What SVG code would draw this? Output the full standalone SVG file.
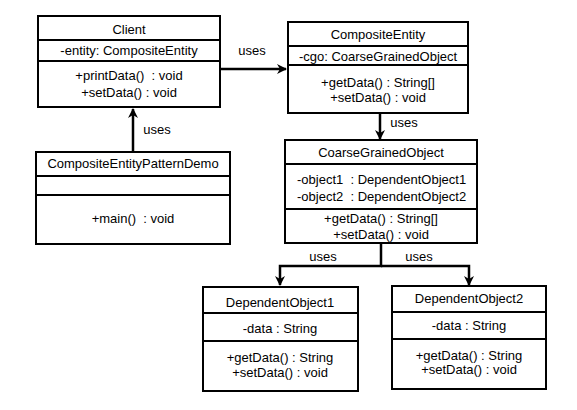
<svg xmlns="http://www.w3.org/2000/svg" width="577" height="410" viewBox="0 0 577 410">
<style>
.box{fill:#fff;stroke:#000;stroke-width:2}
.sep{stroke:#000;stroke-width:2}
text{font-family:"Liberation Sans",Arial,sans-serif;font-size:13px;fill:#000;white-space:pre}
.c{text-anchor:middle}
.conn{fill:none;stroke:#000;stroke-width:2.5}
</style>
<defs>
<marker id="arr" viewBox="0 0 10 10" refX="9" refY="5" markerWidth="4" markerHeight="4" orient="auto" markerUnits="strokeWidth">
<path d="M0,0 L10,5 L0,10 L3,5 Z" fill="#000"/>
</marker>
</defs>
<rect width="577" height="410" fill="#fff"/>
<g id="connectors">
<path class="conn" d="M220,69 H286" marker-end="url(#arr)"/>
<text x="252" y="55" class="c">uses</text>
<path class="conn" d="M133,152 V109" marker-end="url(#arr)"/>
<text x="157" y="134" class="c">uses</text>
<path class="conn" d="M380,113 V139" marker-end="url(#arr)"/>
<text x="404" y="127" class="c">uses</text>
<path class="conn" d="M381,243 V266 H280 V285" marker-end="url(#arr)"/>
<path class="conn" d="M381,266 H469 V285" marker-end="url(#arr)"/>
<text x="323" y="261" class="c">uses</text>
<text x="419" y="261" class="c">uses</text>
</g>
<g id="client">
<rect class="box" x="38" y="16" width="182" height="91"/>
<line class="sep" x1="38" y1="40" x2="220" y2="40"/>
<line class="sep" x1="38" y1="61" x2="220" y2="61"/>
<text x="129" y="34" class="c">Client</text>
<text x="129" y="55" class="c">-entity: CompositeEntity</text>
<text x="129" y="80" class="c">+printData()  : void</text>
<text x="129" y="97" class="c">+setData() : void</text>
</g>
<g id="compositeEntity">
<rect class="box" x="288" y="22" width="180" height="91"/>
<line class="sep" x1="288" y1="46" x2="468" y2="46"/>
<line class="sep" x1="288" y1="65" x2="468" y2="65"/>
<text x="378" y="39" class="c">CompositeEntity</text>
<text x="378" y="61" class="c">-cgo: CoarseGrainedObject</text>
<text x="378" y="87" class="c">+getData() : String[]</text>
<text x="378" y="102" class="c">+setData() : void</text>
</g>
<g id="demo">
<rect class="box" x="36" y="152" width="194" height="92"/>
<line class="sep" x1="36" y1="176" x2="230" y2="176"/>
<line class="sep" x1="36" y1="195" x2="230" y2="195"/>
<text x="133" y="168" class="c">CompositeEntityPatternDemo</text>
<text x="133" y="223" class="c">+main()  : void</text>
</g>
<g id="coarseGrainedObject">
<rect class="box" x="285" y="140" width="192" height="103"/>
<line class="sep" x1="285" y1="164" x2="477" y2="164"/>
<line class="sep" x1="285" y1="209" x2="477" y2="209"/>
<text x="381" y="157" class="c">CoarseGrainedObject</text>
<text x="297" y="184">-object1  : DependentObject1</text>
<text x="297" y="201">-object2  : DependentObject2</text>
<text x="381" y="223" class="c">+getData() : String[]</text>
<text x="381" y="239" class="c">+setData() : void</text>
</g>
<g id="dependentObject1">
<rect class="box" x="203" y="287" width="155" height="104"/>
<line class="sep" x1="203" y1="313" x2="358" y2="313"/>
<line class="sep" x1="203" y1="341" x2="358" y2="341"/>
<text x="280" y="307" class="c">DependentObject1</text>
<text x="280" y="333" class="c">-data : String</text>
<text x="280" y="362" class="c">+getData() : String</text>
<text x="280" y="377" class="c">+setData() : void</text>
</g>
<g id="dependentObject2">
<rect class="box" x="392" y="286" width="154" height="103"/>
<line class="sep" x1="392" y1="312" x2="546" y2="312"/>
<line class="sep" x1="392" y1="339" x2="546" y2="339"/>
<text x="469" y="303" class="c">DependentObject2</text>
<text x="469" y="330" class="c">-data : String</text>
<text x="469" y="360" class="c">+getData() : String</text>
<text x="469" y="374" class="c">+setData() : void</text>
</g>
</svg>
